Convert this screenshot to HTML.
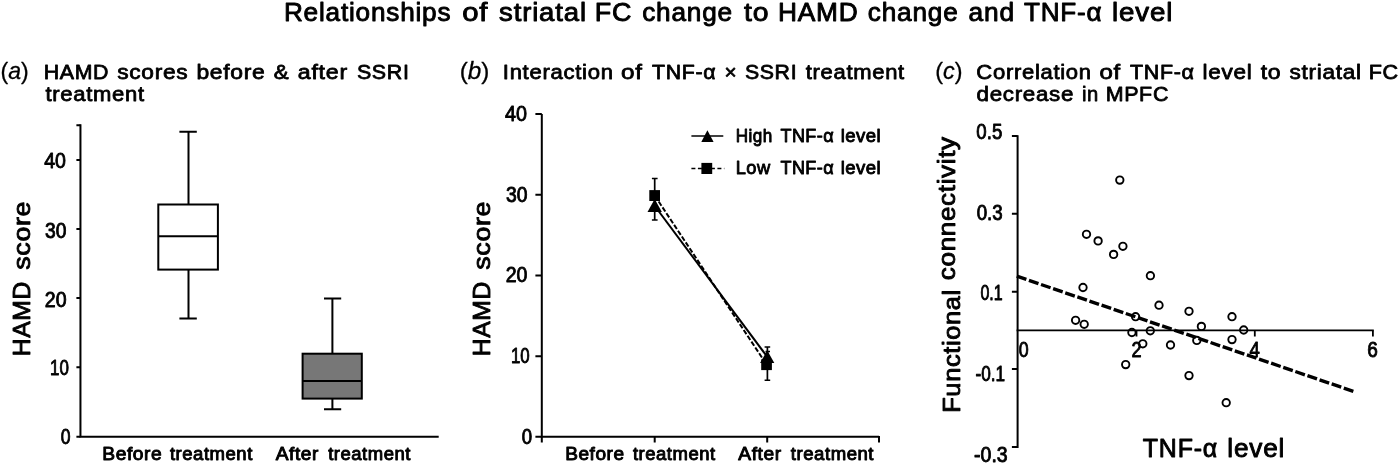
<!DOCTYPE html>
<html><head><meta charset="utf-8"><title>Figure</title>
<style>
html,body{margin:0;padding:0;background:#fff;}
body{width:1400px;height:465px;overflow:hidden;}
svg{display:block;will-change:transform;}
text{font-family:"Liberation Sans",sans-serif;fill:#000;}
.t{stroke:#000;stroke-width:0.9px;stroke-linejoin:round;}
.p{stroke:#000;stroke-width:0.3px;stroke-linejoin:round;}
.s{stroke:#000;stroke-width:0.78px;stroke-linejoin:round;}
.ax{stroke:#000;stroke-width:2;fill:none;}
.ln{stroke:#000;stroke-width:2;fill:none;}
.pt{fill:none;stroke:#000;stroke-width:1.9;}
</style></head><body>
<svg width="1400" height="465" viewBox="0 0 1400 465">
<rect width="1400" height="465" fill="#fff"/>
<!-- PANEL A graphics -->
<g id="pa">
<path class="ax" d="M80.45 124.2V436.85H438.7"/>
<path class="ax" d="M76.4 125.2H80.45M76.4 160H80.45M76.4 228.9H80.45M76.4 298.1H80.45M76.4 367.2H80.45M76.4 436.85H80.45"/>
<path class="ln" d="M188.5 131.8V204.8M188.5 269.8V318.6M179.4 131.8H196.8M179.4 318.6H196.8"/>
<rect class="ln" x="158.3" y="204.5" width="59.6" height="65.1" fill="#fff"/>
<path class="ln" d="M158.3 236.2H217.9"/>
<path class="ln" d="M332.4 298.3V353.7M332.4 398.6V409.3M324 298.5H341.2M324 409.3H341.2"/>
<rect class="ln" x="302.6" y="353.7" width="59.2" height="44.9" style="fill:#777"/>
<path class="ln" d="M302.6 381H361.8"/>
</g>
<!-- PANEL B graphics -->
<g id="pb">
<path class="ax" d="M541.8 114.1V436.85H879"/>
<path class="ax" d="M535.4 114.1H541.8M535.4 194.8H541.8M535.4 275.5H541.8M535.4 356.2H541.8M535.4 436.85H541.8"/>
<path class="ax" d="M541.8 436.85V442.4M654.7 436.85V442.4M767.2 436.85V442.4M879 436V442.4"/>
<path class="ln" d="M654.8 206L767.3 356.9"/>
<path class="ln" d="M654.8 195.7L767.3 365.6" stroke-dasharray="5 2"/>
<path d="M654.7 178.4V220.1M767.4 347V380.2" stroke="#000" stroke-width="1.7" fill="none"/>
<path d="M651.9 178.4H657.6M651.9 220.1H657.6M764.6 347H770.2M764.6 380.2H770.2M765.5 351.5H770" stroke="#000" stroke-width="1.5" fill="none"/>
<rect x="649.3" y="190.1" width="10.7" height="10.9" fill="#000"/>
<path d="M654.7 199L661.9 211.9H647.5Z" fill="#000"/>
<rect x="761.2" y="359.3" width="10.7" height="10.8" fill="#000"/>
<path d="M767.2 350.2L774.3 363.1H760.1Z" fill="#000"/>
<path d="M691.4 136H723.3" stroke="#000" stroke-width="1.5"/>
<path d="M707.4 130.3L713.6 142.1H701.3Z" fill="#000"/>
<path d="M691.4 168.6H724.3" stroke="#000" stroke-width="1.5" stroke-dasharray="4 2.5"/>
<rect x="701.4" y="162.9" width="10.8" height="11.1" fill="#000"/>
</g>
<!-- PANEL C graphics -->
<g id="pc">
<path class="ax" d="M1017.6 135.2V447.9"/>
<path d="M1016.6 330.4H1373.8" stroke="#000" stroke-width="1.8" fill="none"/>
<path class="ax" d="M1011.9 136.1H1017.6M1011.9 213.8H1017.6M1011.9 291.7H1017.6M1011.9 368.9H1017.6M1011.9 446.9H1017.6"/>
<path d="M1136.5 330.4V336.6M1254.8 330.4V336.6M1372.9 330.4V336.6" stroke="#000" stroke-width="1.8" fill="none"/>
<path d="M1016.8 276.2L1353.5 391.4" stroke="#000" stroke-width="3.4" stroke-dasharray="10.1 2.7" fill="none"/>
<g class="pt">
<circle cx="1119.8" cy="180.1" r="3.7"/>
<circle cx="1086.5" cy="234.3" r="3.7"/>
<circle cx="1098.1" cy="240.9" r="3.7"/>
<circle cx="1122.9" cy="246.3" r="3.7"/>
<circle cx="1113.6" cy="254.4" r="3.7"/>
<circle cx="1150.4" cy="275.7" r="3.7"/>
<circle cx="1083" cy="287.5" r="3.7"/>
<circle cx="1075.6" cy="320.3" r="3.7"/>
<circle cx="1084.2" cy="324.3" r="3.7"/>
<circle cx="1135.6" cy="316.7" r="3.7"/>
<circle cx="1131.9" cy="332.5" r="3.7"/>
<circle cx="1150.3" cy="330.8" r="3.7"/>
<circle cx="1142.8" cy="343.8" r="3.7"/>
<circle cx="1125.7" cy="364.6" r="3.7"/>
<circle cx="1159" cy="305.2" r="3.7"/>
<circle cx="1189" cy="311.3" r="3.7"/>
<circle cx="1201.4" cy="326.4" r="3.7"/>
<circle cx="1232" cy="316.7" r="3.7"/>
<circle cx="1243.7" cy="330" r="3.7"/>
<circle cx="1170.5" cy="345" r="3.7"/>
<circle cx="1196.8" cy="340.4" r="3.7"/>
<circle cx="1232" cy="339.6" r="3.7"/>
<circle cx="1189" cy="375.6" r="3.7"/>
<circle cx="1226.2" cy="402.7" r="3.7"/>
</g>
</g>

<g id="labels">
<text class="t" x="283.95" y="21" font-size="26" textLength="167.4" lengthAdjust="spacingAndGlyphs" letter-spacing="0.8">Relationships</text>
<text class="t" x="462.15" y="21" font-size="26" textLength="26.25" lengthAdjust="spacingAndGlyphs" letter-spacing="0.8">of</text>
<text class="t" x="499.05" y="21" font-size="26" textLength="87.8" lengthAdjust="spacingAndGlyphs" letter-spacing="0.8">striatal</text>
<text class="t" x="594.65" y="21" font-size="26" textLength="37.55" lengthAdjust="spacingAndGlyphs" letter-spacing="0.8">FC</text>
<text class="t" x="642.15" y="21" font-size="26" textLength="90.75" lengthAdjust="spacingAndGlyphs" letter-spacing="0.8">change</text>
<text class="t" x="744" y="21" font-size="26" textLength="25.4" lengthAdjust="spacingAndGlyphs" letter-spacing="0.8">to</text>
<text class="t" x="777.95" y="21" font-size="26" textLength="80.65" lengthAdjust="spacingAndGlyphs" letter-spacing="0.8">HAMD</text>
<text class="t" x="867.85" y="21" font-size="26" textLength="90.75" lengthAdjust="spacingAndGlyphs" letter-spacing="0.8">change</text>
<text class="t" x="968.55" y="21" font-size="26" textLength="46.35" lengthAdjust="spacingAndGlyphs" letter-spacing="0.8">and</text>
<text class="t" x="1024.05" y="21" font-size="26" textLength="78.35" lengthAdjust="spacingAndGlyphs" letter-spacing="0.8">TNF-α</text>
<text class="t" x="1112.1" y="21" font-size="26" textLength="61.15" lengthAdjust="spacingAndGlyphs" letter-spacing="0.8">level</text>
<text class="s" x="43.75" y="79" font-size="20.5" textLength="65.4" lengthAdjust="spacingAndGlyphs" letter-spacing="0.65">HAMD</text>
<text class="s" x="117.15" y="79" font-size="20.5" textLength="71.2" lengthAdjust="spacingAndGlyphs" letter-spacing="0.65">scores</text>
<text class="s" x="196.4" y="79" font-size="20.5" textLength="69.15" lengthAdjust="spacingAndGlyphs" letter-spacing="0.65">before</text>
<text class="s" x="273.75" y="79" font-size="20.5" textLength="15.6" lengthAdjust="spacingAndGlyphs" letter-spacing="0.65">&amp;</text>
<text class="s" x="297.8" y="79" font-size="20.5" textLength="50.05" lengthAdjust="spacingAndGlyphs" letter-spacing="0.65">after</text>
<text class="s" x="356.9" y="79" font-size="20.5" textLength="52.65" lengthAdjust="spacingAndGlyphs" letter-spacing="0.65">SSRI</text>
<text class="s" x="502.8" y="79" font-size="20.5" textLength="110.85" lengthAdjust="spacingAndGlyphs" letter-spacing="0.65">Interaction</text>
<text class="s" x="620.9" y="79" font-size="20.5" textLength="21.75" lengthAdjust="spacingAndGlyphs" letter-spacing="0.65">of</text>
<text class="s" x="652.1" y="79" font-size="20.5" textLength="64.15" lengthAdjust="spacingAndGlyphs" letter-spacing="0.65">TNF-α</text>
<text class="s" x="724.4" y="79" font-size="20.5" textLength="12.75" lengthAdjust="spacingAndGlyphs" letter-spacing="0.65">×</text>
<text class="s" x="744.9" y="79" font-size="20.5" textLength="52.35" lengthAdjust="spacingAndGlyphs" letter-spacing="0.65">SSRI</text>
<text class="s" x="805.7" y="79" font-size="20.5" textLength="99.2" lengthAdjust="spacingAndGlyphs" letter-spacing="0.65">treatment</text>
<text class="s" x="976.35" y="79" font-size="20.5" textLength="115.4" lengthAdjust="spacingAndGlyphs" letter-spacing="0.65">Correlation</text>
<text class="s" x="1099.5" y="79" font-size="20.5" textLength="21.55" lengthAdjust="spacingAndGlyphs" letter-spacing="0.65">of</text>
<text class="s" x="1130" y="79" font-size="20.5" textLength="64.6" lengthAdjust="spacingAndGlyphs" letter-spacing="0.65">TNF-α</text>
<text class="s" x="1202.6" y="79" font-size="20.5" textLength="49.85" lengthAdjust="spacingAndGlyphs" letter-spacing="0.65">level</text>
<text class="s" x="1260.7" y="79" font-size="20.5" textLength="20.65" lengthAdjust="spacingAndGlyphs" letter-spacing="0.65">to</text>
<text class="s" x="1289.45" y="79" font-size="20.5" textLength="72.4" lengthAdjust="spacingAndGlyphs" letter-spacing="0.65">striatal</text>
<text class="s" x="1368.75" y="79" font-size="20.5" textLength="30.15" lengthAdjust="spacingAndGlyphs" letter-spacing="0.65">FC</text>
<text class="s" x="45.4" y="101" font-size="20.5" textLength="99.4" lengthAdjust="spacingAndGlyphs" letter-spacing="0.65">treatment</text>
<text class="s" x="976.6" y="101" font-size="20.5" textLength="97.55" lengthAdjust="spacingAndGlyphs" letter-spacing="0.65">decrease</text>
<text class="s" x="1081.9" y="101" font-size="20.5" textLength="17" lengthAdjust="spacingAndGlyphs" letter-spacing="0.65">in</text>
<text class="s" x="1105.65" y="101" font-size="20.5" textLength="63.4" lengthAdjust="spacingAndGlyphs" letter-spacing="0.65">MPFC</text>
<text class="p" x="0.45" y="79" font-size="24" textLength="28.2" lengthAdjust="spacingAndGlyphs">(<tspan font-style="italic">a</tspan>)</text>
<text class="p" x="459.75" y="79" font-size="24" textLength="29.65" lengthAdjust="spacingAndGlyphs">(<tspan font-style="italic">b</tspan>)</text>
<text class="p" x="935.15" y="79" font-size="24" textLength="27.3" lengthAdjust="spacingAndGlyphs">(<tspan font-style="italic">c</tspan>)</text>
<text class="t" x="44.2" y="168" font-size="21.6" textLength="21.75" lengthAdjust="spacingAndGlyphs">40</text>
<text class="t" x="45.05" y="238" font-size="21.6" textLength="21.4" lengthAdjust="spacingAndGlyphs">30</text>
<text class="t" x="44.8" y="307" font-size="21.6" textLength="21.75" lengthAdjust="spacingAndGlyphs">20</text>
<text class="t" x="50.1" y="375" font-size="21.6" textLength="18.85" lengthAdjust="spacingAndGlyphs">10</text>
<text class="t" x="60.85" y="444" font-size="21.6" textLength="9.8" lengthAdjust="spacingAndGlyphs">0</text>
<text class="t" x="505.1" y="121" font-size="21.6" textLength="21.95" lengthAdjust="spacingAndGlyphs">40</text>
<text class="t" x="505.95" y="202" font-size="21.6" textLength="21.5" lengthAdjust="spacingAndGlyphs">30</text>
<text class="t" x="505.7" y="282" font-size="21.6" textLength="21.75" lengthAdjust="spacingAndGlyphs">20</text>
<text class="t" x="510.9" y="363" font-size="21.6" textLength="18.75" lengthAdjust="spacingAndGlyphs">10</text>
<text class="t" x="521.75" y="444" font-size="21.6" textLength="10.35" lengthAdjust="spacingAndGlyphs">0</text>
<text class="t" x="976.35" y="139" font-size="21.6" textLength="25.95" lengthAdjust="spacingAndGlyphs">0.5</text>
<text class="t" x="976.65" y="220" font-size="21.6" textLength="26.05" lengthAdjust="spacingAndGlyphs">0.3</text>
<text class="t" x="980.45" y="300" font-size="21.6" textLength="22.25" lengthAdjust="spacingAndGlyphs">0.1</text>
<text class="t" x="975.5" y="381" font-size="21.6" textLength="29.6" lengthAdjust="spacingAndGlyphs">-0.1</text>
<text class="t" x="974.1" y="462" font-size="21.6" textLength="33.6" lengthAdjust="spacingAndGlyphs">-0.3</text>
<text class="t" x="1018.65" y="357" font-size="21.6" textLength="9.9" lengthAdjust="spacingAndGlyphs">0</text>
<text class="t" x="1131.5" y="357" font-size="21.6" textLength="10.1" lengthAdjust="spacingAndGlyphs">2</text>
<text class="t" x="1249.4" y="357" font-size="21.6" textLength="10.35" lengthAdjust="spacingAndGlyphs">4</text>
<text class="t" x="1367.2" y="357" font-size="21.6" textLength="10.6" lengthAdjust="spacingAndGlyphs">6</text>
<text class="t" x="102.3" y="460" font-size="17.5" textLength="59.9" lengthAdjust="spacingAndGlyphs" letter-spacing="0.5">Before</text>
<text class="t" x="169.95" y="460" font-size="17.5" textLength="82.9" lengthAdjust="spacingAndGlyphs" letter-spacing="0.5">treatment</text>
<text class="t" x="275.8" y="460" font-size="17.5" textLength="43.1" lengthAdjust="spacingAndGlyphs" letter-spacing="0.5">After</text>
<text class="t" x="328.15" y="460" font-size="17.5" textLength="82.8" lengthAdjust="spacingAndGlyphs" letter-spacing="0.5">treatment</text>
<text class="t" x="565.2" y="460" font-size="17.5" textLength="59.4" lengthAdjust="spacingAndGlyphs" letter-spacing="0.5">Before</text>
<text class="t" x="632.95" y="460" font-size="17.5" textLength="82.7" lengthAdjust="spacingAndGlyphs" letter-spacing="0.5">treatment</text>
<text class="t" x="738.3" y="460" font-size="17.5" textLength="43.3" lengthAdjust="spacingAndGlyphs" letter-spacing="0.5">After</text>
<text class="t" x="790.85" y="460" font-size="17.5" textLength="83.2" lengthAdjust="spacingAndGlyphs" letter-spacing="0.5">treatment</text>
<text class="t" x="735.7" y="142" font-size="18.9" textLength="36.95" lengthAdjust="spacingAndGlyphs" letter-spacing="0.5">High</text>
<text class="t" x="780.4" y="142" font-size="18.9" textLength="53.85" lengthAdjust="spacingAndGlyphs" letter-spacing="0.5">TNF-α</text>
<text class="t" x="840.65" y="142" font-size="18.9" textLength="40.6" lengthAdjust="spacingAndGlyphs" letter-spacing="0.5">level</text>
<text class="t" x="735.7" y="174" font-size="18.9" textLength="35" lengthAdjust="spacingAndGlyphs" letter-spacing="0.5">Low</text>
<text class="t" x="780.4" y="174" font-size="18.9" textLength="53.85" lengthAdjust="spacingAndGlyphs" letter-spacing="0.5">TNF-α</text>
<text class="t" x="840.65" y="174" font-size="18.9" textLength="40.6" lengthAdjust="spacingAndGlyphs" letter-spacing="0.5">level</text>
<text class="t" x="1142.85" y="457" font-size="26" textLength="75.05" lengthAdjust="spacingAndGlyphs" letter-spacing="0.8">TNF-α</text>
<text class="t" x="1227.35" y="457" font-size="26" textLength="57.75" lengthAdjust="spacingAndGlyphs" letter-spacing="0.8">level</text>
<text class="t" transform="translate(30.1 354.7) rotate(-90)" x="-1.5" y="0" font-size="24.6" textLength="75.05" lengthAdjust="spacingAndGlyphs" letter-spacing="0.6">HAMD</text>
<text class="t" transform="translate(29.85 269.5) rotate(-90)" x="-0.25" y="0" font-size="24.6" textLength="68.85" lengthAdjust="spacingAndGlyphs" letter-spacing="0.6">score</text>
<text class="t" transform="translate(490.1 354.7) rotate(-90)" x="-1.5" y="0" font-size="24.6" textLength="75.05" lengthAdjust="spacingAndGlyphs" letter-spacing="0.6">HAMD</text>
<text class="t" transform="translate(489.85 269.5) rotate(-90)" x="-0.25" y="0" font-size="24.6" textLength="68.85" lengthAdjust="spacingAndGlyphs" letter-spacing="0.6">score</text>
<text class="t" transform="translate(959.65 411.3) rotate(-90)" x="-1.5" y="0" font-size="24.6" textLength="123.6" lengthAdjust="spacingAndGlyphs" letter-spacing="0.6">Functional</text>
<text class="t" transform="translate(954.9 279.4) rotate(-90)" x="-0.75" y="0" font-size="24.6" textLength="143.9" lengthAdjust="spacingAndGlyphs" letter-spacing="0.6">connectivity</text>
</g>
</svg>
</body></html>
